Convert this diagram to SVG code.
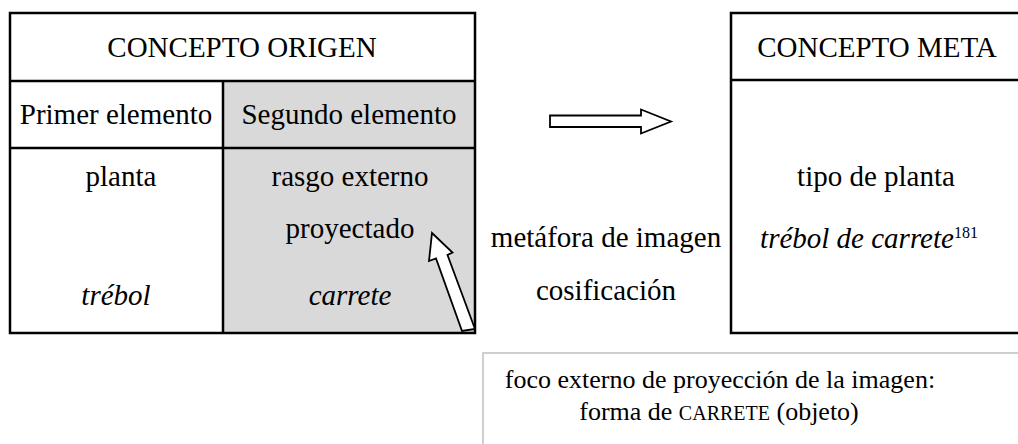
<svg xmlns="http://www.w3.org/2000/svg" width="1018" height="444" viewBox="0 0 1018 444">
<style>
.t{font-family:'Liberation Serif','DejaVu Serif',serif;font-size:29px;fill:#000;text-anchor:middle}
.i{font-style:italic}
.b{font-size:26px}
.box{fill:none;stroke:#000;stroke-width:2.5}
.ln{stroke:#000;stroke-width:2.5}
.arr{fill:#fff;stroke:#000;stroke-width:1.8;stroke-linejoin:miter}
</style>
<rect width="1018" height="444" fill="#fff"/>
<g id="origen">
<rect x="223" y="81" width="252" height="252" fill="#d9d9d9"/>
<rect class="box" x="10" y="13" width="465" height="320"/>
<line class="ln" x1="10" y1="81" x2="475" y2="81"/>
<line class="ln" x1="10" y1="148" x2="475" y2="148"/>
<line class="ln" x1="223" y1="81" x2="223" y2="333"/>
<text class="t" x="242" y="57">CONCEPTO ORIGEN</text>
<text class="t" x="116" y="124">Primer elemento</text>
<text class="t" x="349" y="124">Segundo elemento</text>
<text class="t" x="121" y="186">planta</text>
<text class="t" x="350" y="186">rasgo externo</text>
<text class="t" x="350" y="238">proyectado</text>
<text class="t i" x="116" y="305">trébol</text>
<text class="t i" x="350" y="305">carrete</text>
</g>
<g id="meta">
<rect class="box" x="731" y="13" width="300" height="320"/>
<line class="ln" x1="731" y1="80" x2="1018" y2="80"/>
<text class="t" x="877" y="57">CONCEPTO META</text>
<text class="t" x="876" y="186">tipo de planta</text>
<text class="t i" x="869" y="248">trébol de carrete<tspan font-style="normal" font-size="16" dy="-10">181</tspan></text>
</g>
<g id="relacion">
<text class="t" x="606" y="247">metáfora de imagen</text>
<text class="t" x="606" y="300">cosificación</text>
</g>
<g id="foco">
<rect x="483" y="353" width="560" height="120" fill="#fff" stroke="#c0c0c0" stroke-width="1.5"/>
<text class="t b" x="720" y="388">foco externo de proyección de la imagen:</text>
<text class="t b" x="719" y="420">forma de <tspan font-size="20">CARRETE</tspan> (objeto)</text>
</g>
<g id="connectors">
<polygon class="arr" points="550,115.5 641,115.5 641,109.5 671,121.5 641,133.5 641,127 550,127"/>
<polygon class="arr" points="432,233 452.5,252.5 447.5,255 475,329 462,331 436,258.5 429,261"/>
</g>
</svg>
